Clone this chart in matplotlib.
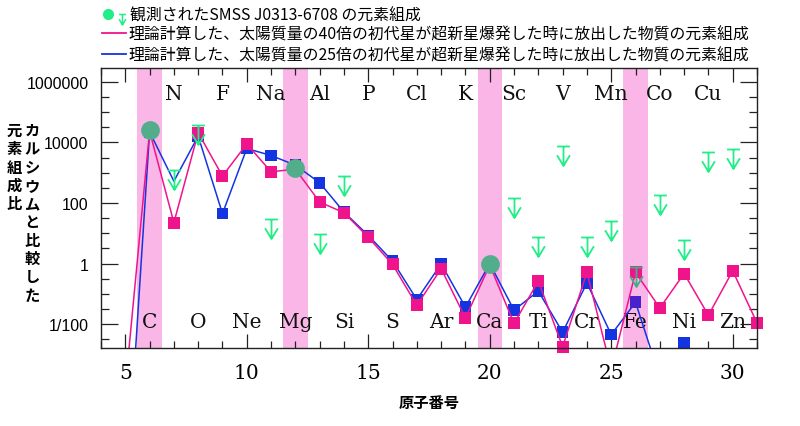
import numpy as np
import matplotlib
matplotlib.use("Agg")
import matplotlib.pyplot as plt
from matplotlib.path import Path
from matplotlib.lines import Line2D
from matplotlib.legend_handler import HandlerTuple
from matplotlib.ticker import FixedLocator, FixedFormatter, MultipleLocator
from matplotlib.transforms import blended_transform_factory

plt.rcParams['font.family'] = ['Noto Sans CJK JP', 'DejaVu Sans']

# model yields, log10 of abundance ratio relative to Ca
z_model_40 = list(range(5, 32))
log_model_40 = [-4.1, 4.37, 1.35, 4.32, 2.89, 3.95, 3.03, 3.12, 2.03, 1.68,
                0.87, -0.03, -1.38, -0.17, -1.80, -0.05, -1.98, -0.58, -2.75,
                -0.29, -3.5, -0.29, -1.47, -0.33, -1.71, -0.24, -1.96]
z_model_25 = list(range(5, 29))
log_model_25 = [-8.1, 4.35, 2.72, 4.21, 1.65, 3.80, 3.57, 3.25, 2.67, 1.70,
                0.93, 0.08, -1.19, -0.01, -1.44, 0.0, -1.54, -0.91, -2.27,
                -0.64, -2.35, -1.28, -3.75, -2.62]

# SMSS J0313-6708: detections and upper limits
z_detect = [6, 12, 20]
log_detect = [4.40, 3.17, 0.0]
z_limit = [7, 8, 11, 13, 14, 21, 22, 23, 24, 25, 26, 27, 28, 29, 30]
log_limit = [3.08, 4.58, 1.48, 0.98, 2.89, 2.18, 0.88, 3.88, 0.88, 1.39,
             -0.11, 2.28, 0.77, 3.68, 3.77]

band_z = [6, 12, 20, 26]
element_z = list(range(6, 31))
element_sym = ["C", "N", "O", "F", "Ne", "Na", "Mg", "Al", "Si", "P", "S", "Cl",
               "Ar", "K", "Ca", "Sc", "Ti", "V", "Cr", "Mn", "Fe", "Co", "Ni",
               "Cu", "Zn"]
x_ticks = [5, 10, 15, 20, 25, 30]
y_ticks = [1e-2, 1, 1e2, 1e4, 1e6]
y_ticklabels = ["1/100", "1", "100", "10000", "1000000"]

label_obs = "観測されたSMSS J0313-6708 の元素組成"
label_40 = "理論計算した、太陽質量の40倍の初代星が超新星爆発した時に放出した物質の元素組成"
label_25 = "理論計算した、太陽質量の25倍の初代星が超新星爆発した時に放出した物質の元素組成"
ylabel_right = "カルシウムと比較した"
ylabel_left = "元素組成比"

PINK = "#F0148C"
BLUE = "#1434E2"
GREEN = "#22EE88"
BAND = "#F9B6E6"
GREEN_IN_BAND = "#40B080"
BLUE_IN_BAND = "#4A22CC"
CIRCLE = "#52AE8A"

LOG_YMIN, LOG_YMAX = -2.79, 6.46

arrow_marker = Path(
    [(-0.33, 0), (0.33, 0), (0, 0), (0, -1), (-0.33, -0.45), (0, -1), (0.33, -0.45)],
    [Path.MOVETO, Path.LINETO, Path.MOVETO, Path.LINETO, Path.MOVETO, Path.LINETO, Path.LINETO])

fig = plt.figure(figsize=(8, 4.27), dpi=100)
ax = fig.add_axes([101 / 800, 1 - 349 / 427, 656 / 800, 280 / 427])

for z in band_z:
    ax.axvspan(z - 0.5, z + 0.5, color=BAND, lw=0, zorder=0.5)

z25 = np.array(z_model_25)
y25 = np.array(log_model_25)
z40 = np.array(z_model_40)
y40 = np.array(log_model_40)

ax.plot(z25, 10 ** y25, color=BLUE, lw=1.1, zorder=2)
keep = (y25 > LOG_YMIN - 0.1) & (z25 != 7)
ax.scatter(z25[keep], 10 ** y25[keep], marker="s", s=70, linewidths=0,
           c=[BLUE_IN_BAND if z in band_z else BLUE for z in z25[keep]],
           zorder=2.1, clip_on=False)

ax.plot(z40, 10 ** y40, color=PINK, lw=1.1, zorder=2.2)
keep = y40 > LOG_YMIN - 0.1
ax.scatter(z40[keep], 10 ** y40[keep], marker="s", s=70, linewidths=0,
           color=PINK, zorder=2.3, clip_on=False)

ax.plot(z_detect, 10 ** np.array(log_detect), "o", ms=13.5, color=CIRCLE,
        mew=0, zorder=3)
for z, v in zip(z_limit, log_limit):
    ax.plot(z, 10 ** v, marker=arrow_marker, ms=28, mfc="none", mew=1.3,
            mec=GREEN_IN_BAND if z in band_z else GREEN, ls="none", zorder=3.1)

trans = blended_transform_factory(ax.transData, ax.transAxes)
for z, sym in zip(element_z, element_sym):
    ax.text(z, 0.909 if z % 2 else 0.095, sym, transform=trans, ha="center",
            va="center", fontsize=14.5, family="DejaVu Serif", color="#111111",
            zorder=1)

ax.set_yscale("log")
ax.set_xlim(4, 31)
ax.set_ylim(10 ** LOG_YMIN, 10 ** LOG_YMAX)

ax.xaxis.set_major_locator(FixedLocator(x_ticks))
ax.xaxis.set_minor_locator(MultipleLocator(1))
ax.yaxis.set_major_locator(FixedLocator(y_ticks))
ax.yaxis.set_major_formatter(FixedFormatter(y_ticklabels))
minor_y = [10 ** k for k in np.arange(-2.5, 7, 0.5) if k % 2 != 0]
ax.yaxis.set_minor_locator(FixedLocator(minor_y))
ax.yaxis.set_minor_formatter(FixedFormatter([""] * len(minor_y)))

ax.tick_params(which="both", direction="in", top=True, right=True,
               color="#222222", width=0.9)
ax.tick_params(axis="x", which="major", length=10, pad=11, labelsize=14.5,
               labelfontfamily="DejaVu Serif")
ax.tick_params(axis="x", which="minor", length=5)
ax.tick_params(axis="y", which="major", length=12, pad=9, labelsize=11.5,
               labelfontfamily="Liberation Sans")
ax.tick_params(axis="y", which="minor", length=6)
for sp in ax.spines.values():
    sp.set_linewidth(1.0)
    sp.set_color("#222222")

ax.set_xlabel("原子番号", fontsize=11, fontweight="bold")
ax.xaxis.set_label_coords(0.5, -0.164)

# vertical y label, two columns read right to left
pitch = 18.3
for i, ch in enumerate(ylabel_right):
    fig.text(32 / 800, 1 - (131 + i * pitch) / 427, ch, ha="center", va="center",
             fontsize=11, fontweight="bold")
for i, ch in enumerate(ylabel_left):
    fig.text(14.5 / 800, 1 - (131 + i * pitch) / 427, ch, ha="center", va="center",
             fontsize=11, fontweight="bold")

obs_dot = Line2D([], [], marker="o", ms=7, color=GREEN, ls="none")
obs_arrow = Line2D([], [], marker=arrow_marker, ms=15, mfc="none", mec=GREEN,
                   mew=1.1, ls="none")
fig.legend([(obs_dot, obs_arrow)], [label_obs],
           handler_map={tuple: HandlerTuple(ndivide=None, pad=0.2)},
           loc="center left", bbox_to_anchor=(102 / 800, 1 - 16 / 427),
           frameon=False, fontsize=11.4, handlelength=1.6, handletextpad=0.2,
           borderpad=0, borderaxespad=0)
model_lines = [Line2D([], [], color=PINK, lw=1.3), Line2D([], [], color=BLUE, lw=1.3)]
fig.legend(model_lines, [label_40, label_25], loc="upper left",
           bbox_to_anchor=(102 / 800, 1 - 27 / 427), frameon=False, fontsize=11.4,
           handlelength=1.5, handletextpad=0.2, labelspacing=0.22,
           borderpad=0, borderaxespad=0)

fig.savefig("out.png", dpi=100)
